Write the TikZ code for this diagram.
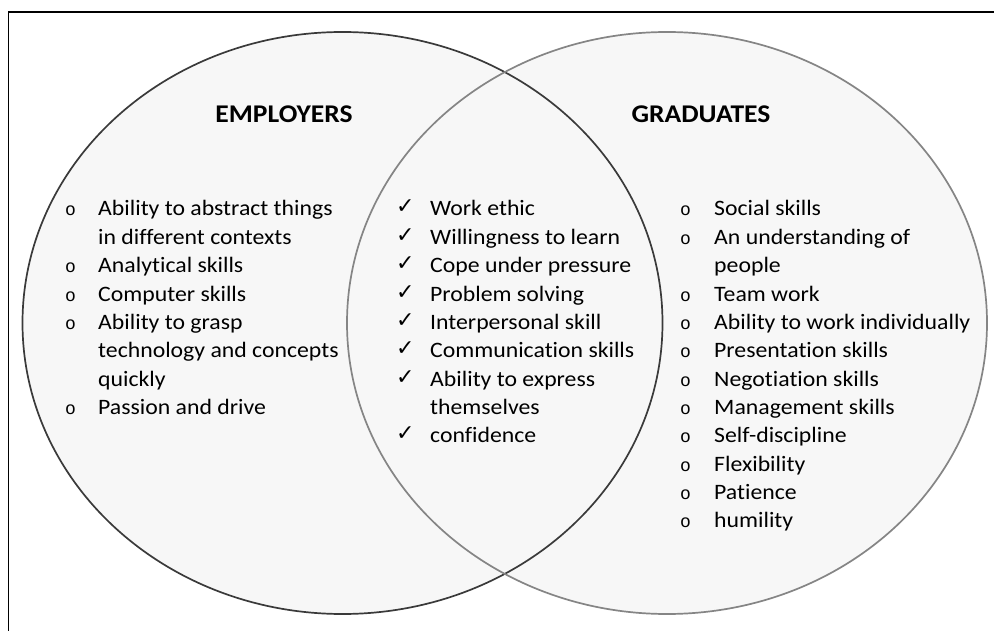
\documentclass[tikz,border=0pt]{standalone}
\usepackage{fontspec}
\setmainfont{Carlito}[FakeStretch=1.08,Ligatures={NoCommon}]
\newfontfamily\symfont{DejaVu Sans}
\newfontfamily\bulfont{Liberation Mono}
\definecolor{vfill}{HTML}{F7F7F7}
\definecolor{ledge}{HTML}{3A3A3A}
\definecolor{redge}{HTML}{858585}
\begin{document}
\begin{tikzpicture}[x=1pt,y=-1pt,
  item/.style={anchor=base west,inner sep=0pt,font=\fontsize{22}{26}\selectfont},
  bul/.style={anchor=base west,inner sep=0pt,font=\bulfont\fontsize{18}{20}\selectfont},
  chk/.style={anchor=base west,inner sep=0pt,font=\symfont\fontsize{22}{24}\selectfont},
  head/.style={anchor=base,inner sep=0pt,font=\bfseries\fontsize{25.5}{28}\selectfont}]
\useasboundingbox (0,0) rectangle (994,631);
\fill[white] (0,0) rectangle (994,631);
\draw[line width=1.5pt] (8.5,631) -- (8.5,12) -- (994,12);
\fill[vfill] (342.5,323) ellipse [x radius=320, y radius=291];
\fill[vfill] (667,323) ellipse [x radius=320, y radius=291];
\draw[ledge, line width=1.7pt] (342.5,323) ellipse [x radius=320, y radius=291];
\draw[redge, line width=1.7pt] (667,323) ellipse [x radius=320, y radius=291];
% headings
\node[head] (emp) at (284,122.5) {EMPLOYERS};
\node[head] (grad) at (701,122.5) {GRADUATES};
% left list
\foreach \i/\t in {0/Ability to abstract things,1/in different contexts,2/Analytical skills,3/Computer skills,4/Ability to grasp,5/technology and concepts,6/quickly,7/Passion and drive}
  \node[item] (l\i) at (98,216+28.35*\i) {\t};
\foreach \i in {0,2,3,4,7}
  \node[bul] (lb\i) at (65,216+28.35*\i) {o};
% middle list
\foreach \i/\t in {0/Work ethic,1/Willingness to learn,2/Cope under pressure,3/Problem solving,4/Interpersonal skill,5/Communication skills,6/Ability to express,7/themselves,8/confidence}
  \node[item] (m\i) at (430,216+28.35*\i) {\t};
\foreach \i in {0,1,2,3,4,5,6,8}
  \node[chk] (mb\i) at (396,214+28.35*\i) {\bfseries ✓};
% right list
\foreach \i/\t in {0/Social skills,1/An understanding of,2/people,3/Team work,4/Ability to work individually,5/Presentation skills,6/Negotiation skills,7/Management skills,8/Self-discipline,9/Flexibility,10/Patience,11/humility}
  \node[item] (r\i) at (714,216+28.35*\i) {\t};
\foreach \i in {0,1,3,4,5,6,7,8,9,10,11}
  \node[bul] (rb\i) at (680,216+28.35*\i) {o};
\end{tikzpicture}
\end{document}
